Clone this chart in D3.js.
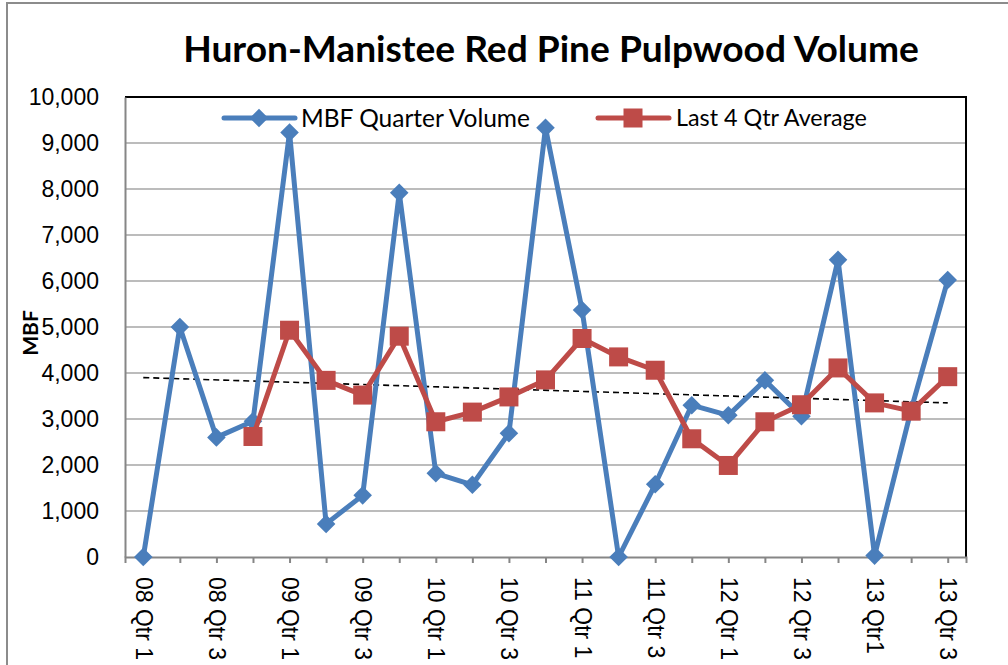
<!DOCTYPE html>
<html><head><meta charset="utf-8">
<script src="https://cdn.jsdelivr.net/npm/d3@7"></script>
<style>body{margin:0;background:#fff}svg{display:block}</style>
</head><body>
<svg id="c" width="1008" height="665"></svg>
<script>
const categories = ["08 Qtr 1","08 Qtr 2","08 Qtr 3","08 Qtr 4","09 Qtr 1","09 Qtr 2","09 Qtr 3","09 Qtr 4","10 Qtr 1","10 Qtr 2","10 Qtr 3","10 Qtr 4","11 Qtr 1","11 Qtr 2","11 Qtr 3","11 Qtr 4","12 Qtr 1","12 Qtr 2","12 Qtr 3","12 Qtr 4","13 Qtr1","13 Qtr 2","13 Qtr 3"];
const quarterVolume = [0,5000,2600,2950,9230,720,1340,7920,1820,1570,2690,9330,5370,0,1580,3300,3080,3840,3060,6460,30,3200,6020];
const fourQtrAvg = [null,null,null,2620,4930,3840,3520,4800,2940,3150,3480,3850,4750,4350,4060,2570,1990,2940,3310,4110,3350,3170,3920];
const trendEnds = [3900,3350];
const yTicks = [0,1000,2000,3000,4000,5000,6000,7000,8000,9000,10000];
const labelEvery = 2;

const svg = d3.select("#c");
const L=125,R=966,T=97,B=557;
const blue="#4a7ebb", red="#be4b48";

svg.append("rect").attr("x",7).attr("y",3).attr("width",1100).attr("height",800)
  .attr("fill","none").attr("stroke","#8c8c8c").attr("stroke-width",2);

const x = d3.scalePoint().domain(d3.range(categories.length)).range([L,R]).padding(0.5);
const y = d3.scaleLinear().domain([0,10000]).range([B,T]);

svg.append("g").selectAll("line").data(yTicks.filter(v=>v>0&&v<10000)).join("line")
  .attr("x1",L).attr("x2",R).attr("y1",d=>y(d)).attr("y2",d=>y(d))
  .attr("stroke","#a6a6a6").attr("stroke-width",1.5);
svg.append("path").attr("d",`M${L},${T}H${R}V${B}`).attr("fill","none").attr("stroke","#000").attr("stroke-width",2);

const ya = svg.append("g").attr("transform",`translate(${L},0)`)
  .call(d3.axisLeft(y).tickValues(yTicks).tickFormat(d3.format(",")).tickSize(0).tickPadding(26));
ya.select(".domain").attr("stroke","#868686").attr("stroke-width",2);
ya.selectAll("text").attr("font-family","'Liberation Sans',Arial,sans-serif").attr("font-size",23).attr("fill","#000");

const xa = svg.append("g").attr("transform",`translate(0,${B})`)
  .call(d3.axisBottom(x).tickSize(6).tickSizeOuter(6).tickFormat(i=> i%labelEvery===0?categories[i]:""));
xa.select(".domain").attr("stroke","#868686").attr("stroke-width",2);
xa.selectAll(".tick line").attr("stroke","#868686").attr("stroke-width",2);
xa.selectAll("text").attr("font-family","'Liberation Sans',Arial,sans-serif").attr("font-size",23).attr("fill","#000")
  .attr("transform","rotate(90)").attr("text-anchor","start").attr("x",20).attr("y",0).attr("dy","0.35em");

svg.append("line").attr("x1",x(0)).attr("x2",x(categories.length-1))
  .attr("y1",y(trendEnds[0])).attr("y2",y(trendEnds[1]))
  .attr("stroke","#000").attr("stroke-width",1.6).attr("stroke-dasharray","6,4");

const line = d3.line().defined(d=>d!=null).x((d,i)=>x(i)).y(d=>y(d));
svg.append("path").datum(quarterVolume).attr("d",line).attr("fill","none").attr("stroke",blue).attr("stroke-width",5).attr("stroke-linejoin","round");
const dia = d3.symbol().type(d3.symbolDiamond2).size(220);
svg.append("g").selectAll("path").data(quarterVolume).join("path")
  .attr("d",dia).attr("transform",(d,i)=>`translate(${x(i)},${y(d)})`).attr("fill",blue);

const lr = d3.line().defined(d=>d!=null).x(d=>x(d.i)).y(d=>y(d.v));
const redPts = fourQtrAvg.map((v,i)=>({i,v})).filter(d=>d.v!=null);
svg.append("path").datum(redPts).attr("d",lr).attr("fill","none").attr("stroke",red).attr("stroke-width",5).attr("stroke-linejoin","round");
svg.append("g").selectAll("rect").data(redPts).join("rect")
  .attr("x",d=>x(d.i)-9.5).attr("y",d=>y(d.v)-9.5).attr("width",19).attr("height",19).attr("fill",red);

function fit(t, target){
  const fs = +t.attr("font-size");
  const w = t.node().getBBox().width;
  t.attr("font-size", fs*target/w);
}

const ly=118;
svg.append("line").attr("x1",224).attr("x2",295).attr("y1",ly).attr("y2",ly).attr("stroke",blue).attr("stroke-width",5).attr("stroke-linecap","round");
svg.append("path").attr("d",dia).attr("transform",`translate(259,${ly})`).attr("fill",blue);
const t1 = svg.append("text").attr("x",301).attr("y",ly).attr("dy","0.35em").attr("font-family","Lato,'Open Sans',sans-serif").attr("font-size",22).text("MBF Quarter Volume");
fit(t1,229);
svg.append("line").attr("x1",598).attr("x2",669).attr("y1",ly).attr("y2",ly).attr("stroke",red).attr("stroke-width",5).attr("stroke-linecap","round");
svg.append("rect").attr("x",633-9.5).attr("y",ly-9.5).attr("width",19).attr("height",19).attr("fill",red);
const t2 = svg.append("text").attr("x",676).attr("y",ly).attr("dy","0.35em").attr("font-family","Lato,'Open Sans',sans-serif").attr("font-size",22).text("Last 4 Qtr Average");
fit(t2,191);

const tt = svg.append("text").attr("x",551).attr("y",62).attr("text-anchor","middle")
  .attr("font-family","Lato,'Open Sans',sans-serif").attr("font-weight","bold").attr("font-size",34)
  .text("Huron-Manistee Red Pine Pulpwood Volume");
fit(tt,736);

svg.append("text").attr("transform","translate(31,333) rotate(-90)").attr("text-anchor","middle").attr("dy","0.35em")
  .attr("font-family","Lato,'Open Sans',sans-serif").attr("font-weight","bold").attr("font-size",21).text("MBF");
</script>
</body></html>
